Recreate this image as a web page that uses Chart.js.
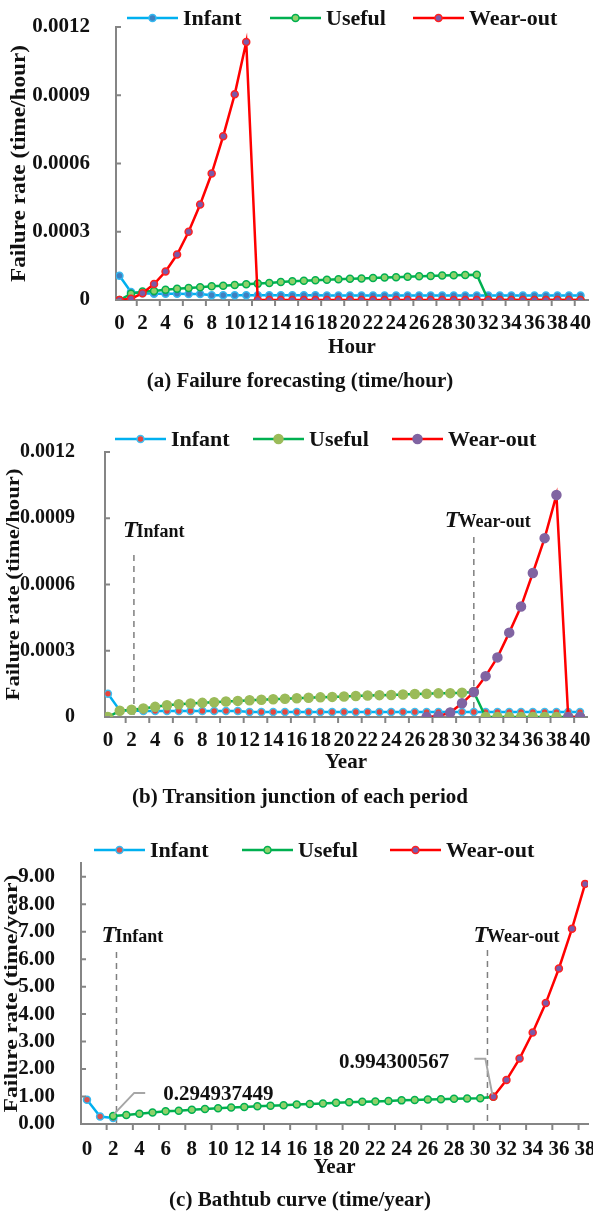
<!DOCTYPE html>
<html>
<head>
<meta charset="utf-8">
<title>Failure rate periods</title>
<script src="https://cdn.jsdelivr.net/npm/chart.js@4.4.1/dist/chart.umd.min.js"></script>
<style>
  html, body { margin: 0; padding: 0; background: #fff; }
  body { position: relative; width: 593px; height: 1213px; overflow: hidden;
         font-family: "Liberation Serif", "Times New Roman", serif; font-weight: bold; color: #111; }
  canvas { position: absolute; left: 0; }
  .caption { position: absolute; left: 0; width: 600px; text-align: center; font-size: 21px; line-height: 24px; }
</style>
</head>
<body>
<canvas id="chartA" width="593" height="370" style="top:0"></canvas>
<canvas id="chartB" width="593" height="385" style="top:400px"></canvas>
<canvas id="chartC" width="593" height="370" style="top:820px"></canvas>
<div class="caption" style="top:368px">(a) Failure forecasting (time/hour)</div>
<div class="caption" style="top:784px">(b) Transition junction of each period</div>
<div class="caption" style="top:1187px">(c) Bathtub curve (time/year)</div>

<script>
// ---- data ----
const seriesNames = ['Infant', 'Useful', 'Wear-out'];

const hourCats = [0, 1, 2, 3, 4, 5, 6, 7, 8, 9, 10, 11, 12, 13, 14, 15, 16, 17, 18, 19, 20,
  21, 22, 23, 24, 25, 26, 27, 28, 29, 30, 31, 32, 33, 34, 35, 36, 37, 38, 39, 40];
const yearCatsB = [0, 1, 2, 3, 4, 5, 6, 7, 8, 9, 10, 11, 12, 13, 14, 15, 16, 17, 18, 19, 20,
  21, 22, 23, 24, 25, 26, 27, 28, 29, 30, 31, 32, 33, 34, 35, 36, 37, 38, 39, 40];
const yearCatsC = [0, 1, 2, 3, 4, 5, 6, 7, 8, 9, 10, 11, 12, 13, 14, 15, 16, 17, 18, 19,
  20, 21, 22, 23, 24, 25, 26, 27, 28, 29, 30, 31, 32, 33, 34, 35, 36, 37, 38];

const xTicksAB = [0, 2, 4, 6, 8, 10, 12, 14, 16, 18, 20, 22, 24, 26, 28, 30, 32, 34, 36, 38, 40];
const xTicksC = [0, 2, 4, 6, 8, 10, 12, 14, 16, 18, 20, 22, 24, 26, 28, 30, 32, 34, 36, 38];
const yTicksRate = [0, 0.0003, 0.0006, 0.0009, 0.0012];
const yLabelsRate = ['0', '0.0003', '0.0006', '0.0009', '0.0012'];
const yTicksYear = [0, 1, 2, 3, 4, 5, 6, 7, 8, 9];
const yLabelsYear = ['0.00', '1.00', '2.00', '3.00', '4.00', '5.00', '6.00', '7.00', '8.00', '9.00'];

// (a) failure forecasting, per hour
const infantA = [0.000107, 0.000035, 0.000030, 0.000028, 0.000027, 0.000027, 0.000026, 0.000026,
  0.000021, 0.000021, 0.000021, 0.000021, 0.000021, 0.000021, 0.000021, 0.000021, 0.000021, 0.000021,
  0.000020, 0.000020, 0.000020, 0.000020, 0.000020, 0.000020, 0.000020, 0.000020, 0.000020, 0.000020,
  0.000020, 0.000020, 0.000020, 0.000020, 0.000020, 0.000020, 0.000020, 0.000020, 0.000020, 0.000020,
  0.000020, 0.000020, 0.000020];
const usefulA = [0, 0.000027, 0.000037, 0.000040, 0.000045, 0.000049, 0.000053, 0.000056, 0.000060, 0.000063,
  0.000066, 0.000069, 0.000072, 0.000075, 0.000079, 0.000082, 0.000085, 0.000087, 0.000089, 0.000091,
  0.000093, 0.000095, 0.000097, 0.000099, 0.000100, 0.000102, 0.000104, 0.000106, 0.000108, 0.000109,
  0.000110, 0.000111, 0, 0, 0, 0, 0, 0, 0, 0, 0];
const wearA = [0, 0.000005, 0.000030, 0.000070, 0.000125, 0.000200, 0.000300, 0.000420, 0.000556, 0.000720,
  0.000904, 0.001134, 0, 0, 0, 0, 0, 0, 0, 0, 0, 0, 0, 0, 0, 0, 0, 0, 0, 0, 0, 0, 0, 0, 0, 0, 0, 0, 0, 0, 0];

// (b) transition junctions, per year axis
const infantB = [0.000105, 0.000030, 0.000029, 0.000027, 0.000027, 0.000027, 0.000027, 0.000027, 0.000027,
  0.000027, 0.000027, 0.000027, 0.000023, 0.000023, 0.000023, 0.000023, 0.000023, 0.000023, 0.000023,
  0.000023, 0.000023, 0.000023, 0.000023, 0.000023, 0.000023, 0.000023, 0.000023, 0.000023, 0.000023,
  0.000023, 0.000023, 0.000023, 0.000023, 0.000023, 0.000023, 0.000023, 0.000023, 0.000023, 0.000023,
  0.000023, 0.000023];
const usefulB = [0, 0.000028, 0.000033, 0.000039, 0.000046, 0.000053, 0.000058, 0.000061, 0.000064, 0.000067,
  0.000070, 0.000073, 0.000076, 0.000078, 0.000080, 0.000083, 0.000085, 0.000087, 0.000089, 0.000091,
  0.000093, 0.000095, 0.000097, 0.000099, 0.000100, 0.000102, 0.000104, 0.000105, 0.000107, 0.000108,
  0.000110, 0.000113, 0, 0, 0, 0, 0, 0, 0, 0, 0];
const wearB = [...Array(27).fill(null),
  0, 0.000004, 0.000020, 0.000062, 0.000113, 0.000185, 0.000270, 0.000382, 0.000500, 0.000652,
  0.000810, 0.001005, 0, 0];

// (c) bathtub curve, per year
const infantC = [0.88, 0.27, 0.22, ...Array(36).fill(null)];
const usefulC = [null, null, 0.294937449, 0.33, 0.37, 0.42, 0.46, 0.48, 0.52, 0.55,
  0.57, 0.60, 0.62, 0.65, 0.66, 0.68, 0.71, 0.73, 0.75, 0.77,
  0.79, 0.81, 0.82, 0.84, 0.86, 0.87, 0.89, 0.90, 0.92, 0.93,
  0.94, 0.994300567, ...Array(7).fill(null)];
const wearC = [...Array(31).fill(null), 0.994300567, 1.60, 2.38, 3.33, 4.40, 5.66, 7.11, 8.74];

// ---- style ----
const serif = '"Liberation Serif", "Times New Roman", serif';
const axisGrey = '#858585';
const ink = '#111';
const blue = '#00B0F0', green = '#00B050', red = '#FF0000';

Chart.defaults.font.family = serif;
Chart.defaults.font.weight = 'bold';
Chart.defaults.color = ink;

function line(label, data, color, mark, order) {
  return {
    label, data, order,
    borderColor: color, backgroundColor: color, borderWidth: 2.5,
    pointBackgroundColor: mark.fill, pointBorderColor: mark.edge, pointBorderWidth: 1.5,
    pointRadius: mark.r, pointHoverRadius: mark.r,
    tension: 0, spanGaps: false
  };
}

// legend, junction markers, callouts, tick marks and the rotated value-axis title
const extras = {
  id: 'extras',
  beforeDatasetsDraw(chart, args, o) {
    const {ctx, chartArea: a, scales: {x}} = chart;
    (o.junctions || []).forEach(j => {
      const px = x.getPixelForValue(j.year);
      ctx.save();
      ctx.strokeStyle = '#7F7F7F';
      ctx.lineWidth = 1.5;
      ctx.setLineDash([6, 5]);
      ctx.beginPath();
      ctx.moveTo(px, j.top);
      ctx.lineTo(px, a.bottom);
      ctx.stroke();
      ctx.setLineDash([]);
      ctx.fillStyle = ink;
      ctx.textBaseline = 'alphabetic';
      ctx.font = 'italic bold 24px ' + serif;
      const tx = px + j.dx;
      ctx.fillText('T', tx, j.base);
      const tw = ctx.measureText('T').width;
      ctx.font = 'bold 18px ' + serif;
      ctx.fillText(j.label, tx + tw - 1, j.base);
      ctx.restore();
    });
  },
  afterDatasetsDraw(chart, args, o) {
    const {ctx, chartArea: a, scales: {x, y}} = chart;
    ctx.save();
    // tick marks: inward on the value axis, outward between category pairs
    ctx.strokeStyle = axisGrey;
    ctx.lineWidth = 2;
    ctx.beginPath();
    y.ticks.forEach(t => {
      const py = y.getPixelForValue(t.value);
      ctx.moveTo(a.left, py);
      ctx.lineTo(a.left + 5, py);
    });
    for (let v = 1.5; v < x.max; v += 2) {
      const px = x.getPixelForValue(v);
      ctx.moveTo(px, a.bottom);
      ctx.lineTo(px, a.bottom + 6);
    }
    ctx.stroke();

    // value-axis title, widened along its run
    const yt = o.yTitle;
    ctx.save();
    ctx.translate(yt.x, (a.top + a.bottom) / 2);
    ctx.rotate(-Math.PI / 2);
    ctx.font = 'bold ' + yt.size + 'px ' + serif;
    ctx.scale(yt.len / ctx.measureText(yt.text).width, 1);
    ctx.fillStyle = ink;
    ctx.textAlign = 'center';
    ctx.textBaseline = 'middle';
    ctx.fillText(yt.text, 0, 0);
    ctx.restore();

    // callouts with leader lines
    (o.callouts || []).forEach(c => {
      const px = x.getPixelForValue(c.year);
      const py = y.getPixelForValue(c.value);
      const s = c.side === 'left' ? -1 : 1;
      ctx.strokeStyle = '#A6A6A6';
      ctx.lineWidth = 2;
      ctx.beginPath();
      ctx.moveTo(px + s * 1, py - 2);
      ctx.lineTo(px + s * c.kx, py - c.ky);
      ctx.lineTo(px + s * c.hx, py - c.ky);
      ctx.stroke();
      ctx.fillStyle = ink;
      ctx.font = 'bold 21px ' + serif;
      ctx.textBaseline = 'middle';
      ctx.textAlign = s < 0 ? 'right' : 'left';
      ctx.fillText(c.value.toFixed(9), px + s * c.tx, py - c.ty);
    });

    // legend
    const lg = o.legend;
    if (lg) {
      chart.data.datasets.forEach((d, i) => {
        const x0 = lg.starts[i];
        ctx.strokeStyle = d.borderColor;
        ctx.lineWidth = 2.5;
        ctx.beginPath();
        ctx.moveTo(x0, lg.y);
        ctx.lineTo(x0 + 51, lg.y);
        ctx.stroke();
        ctx.beginPath();
        ctx.arc(x0 + 25.5, lg.y, d.pointRadius, 0, Math.PI * 2);
        ctx.fillStyle = d.pointBackgroundColor;
        ctx.fill();
        ctx.lineWidth = d.pointBorderWidth;
        ctx.strokeStyle = d.pointBorderColor;
        ctx.stroke();
        ctx.fillStyle = ink;
        ctx.font = 'bold 22px ' + serif;
        ctx.textAlign = 'left';
        ctx.textBaseline = 'middle';
        ctx.fillText(d.label, x0 + 56, lg.y + 1);
      });
    }
    ctx.restore();
  }
};

function buildPanel(p) {
  const datasets = [
    line(seriesNames[0], p.infant, blue, p.marks[0], 2),
    line(seriesNames[1], p.useful, green, p.marks[1], 1),
    line(seriesNames[2], p.wear, red, p.marks[2], 0)
  ];
  const canvas = document.getElementById(p.id);
  new Chart(canvas, {
    type: 'line',
    data: { labels: p.cats, datasets },
    options: {
      responsive: false,
      animation: false,
      layout: { padding: { left: 0, top: p.top, right: 593 - p.right, bottom: 0 } },
      plugins: {
        legend: { display: false },
        tooltip: { enabled: false },
        extras: { legend: p.legend, junctions: p.junctions, callouts: p.callouts, yTitle: p.yTitle }
      },
      scales: {
        x: {
          type: 'linear', min: p.xMin, max: p.xMax,
          afterBuildTicks: s => { s.ticks = p.xTicks.map(v => ({ value: v })); },
          afterFit: s => { s.height = canvas.height - p.bottom; s.paddingLeft = 0; s.paddingRight = 0; },
          grid: { display: false },
          border: { color: axisGrey, width: 2 },
          ticks: { autoSkip: false, maxRotation: 0, padding: p.xPad, font: { size: 21 }, color: ink,
                   callback: v => String(v) },
          title: { display: true, text: p.xTitle, font: { size: 21 }, color: ink,
                   padding: { top: 0, bottom: p.xTitlePad } }
        },
        y: {
          min: 0, max: p.yMax,
          afterBuildTicks: s => { s.ticks = p.yTicks.map(v => ({ value: v })); },
          afterFit: s => { s.width = p.left; s.paddingTop = 0; s.paddingBottom = 0; },
          grid: { display: false },
          border: { color: axisGrey, width: 2 },
          ticks: { padding: p.yPad, font: { size: p.yFont }, color: ink,
                   callback: (v, i) => p.yLabels[i] },
          title: { display: false }
        }
      }
    },
    plugins: [extras]
  });
}

const ringMarks = [
  { fill: '#3F7FBF', edge: '#35B8F0', r: 3.5 },
  { fill: '#8FD16A', edge: '#00B050', r: 3.5 },
  { fill: '#7A5AA8', edge: '#FF2020', r: 3.5 }
];

buildPanel({
  id: 'chartA', cats: hourCats, infant: infantA, useful: usefulA, wear: wearA,
  marks: ringMarks,
  left: 116, right: 588, top: 27, bottom: 300,
  xMin: -0.3, xMax: 40.65, xTicks: xTicksAB, xPad: 3, xTitle: 'Hour', xTitlePad: 9.4,
  yMax: 0.0012, yTicks: yTicksRate, yLabels: yLabelsRate, yPad: 18, yFont: 21,
  yTitle: { text: 'Failure rate (time/hour)', x: 20, len: 237, size: 20 },
  legend: { y: 18, starts: [127, 270, 413] }
});

buildPanel({
  id: 'chartB', cats: yearCatsB, infant: infantB, useful: usefulB, wear: wearB,
  marks: [
    { fill: '#E8453C', edge: '#3EC0F2', r: 3.5 },
    { fill: '#9BBB59', edge: '#9BBB59', r: 4.5 },
    { fill: '#8064A2', edge: '#8064A2', r: 4.5 }
  ],
  left: 105, right: 590, top: 52, bottom: 317,
  xMin: -0.25, xMax: 40.59, xTicks: xTicksAB, xPad: 3, xTitle: 'Year', xTitlePad: 9.4,
  yMax: 0.0012, yTicks: yTicksRate, yLabels: yLabelsRate, yPad: 22, yFont: 20,
  yTitle: { text: 'Failure rate (time/hour)', x: 14, len: 232, size: 19 },
  legend: { y: 39, starts: [115, 253, 392] },
  junctions: [
    { year: 2.2, top: 155, dx: -11, base: 137, label: 'Infant' },
    { year: 31, top: 137, dx: -29, base: 127, label: 'Wear-out' }
  ]
});

buildPanel({
  id: 'chartC', cats: yearCatsC, infant: infantC, useful: usefulC, wear: wearC,
  marks: [
    { fill: '#D9534F', edge: '#35B8F0', r: 3.5 },
    { fill: '#8FD16A', edge: '#00B050', r: 3.5 },
    { fill: '#7A5AA8', edge: '#FF2020', r: 3.5 }
  ],
  left: 81, right: 590, top: 43, bottom: 304,
  xMin: -0.456, xMax: 38.22, xTicks: xTicksC, xPad: 5, xTitle: 'Year', xTitlePad: 9.4,
  yMax: 9.5, yTicks: yTicksYear, yLabels: yLabelsYear, yPad: 18, yFont: 21,
  yTitle: { text: 'Failure rate (time/year)', x: 12, len: 238, size: 18 },
  legend: { y: 30, starts: [94, 242, 390] },
  junctions: [
    { year: 2.25, top: 132, dx: -15, base: 122, label: 'Infant' },
    { year: 30.55, top: 130, dx: -14, base: 122, label: 'Wear-out' }
  ],
  callouts: [
    { year: 2, value: usefulC[2], side: 'right', kx: 21, ky: 23, hx: 32, tx: 50, ty: 21 },
    { year: 31, value: wearC[31], side: 'left', kx: 8, ky: 38, hx: 19, tx: 44, ty: 34 }
  ]
});
</script>
</body>
</html>
